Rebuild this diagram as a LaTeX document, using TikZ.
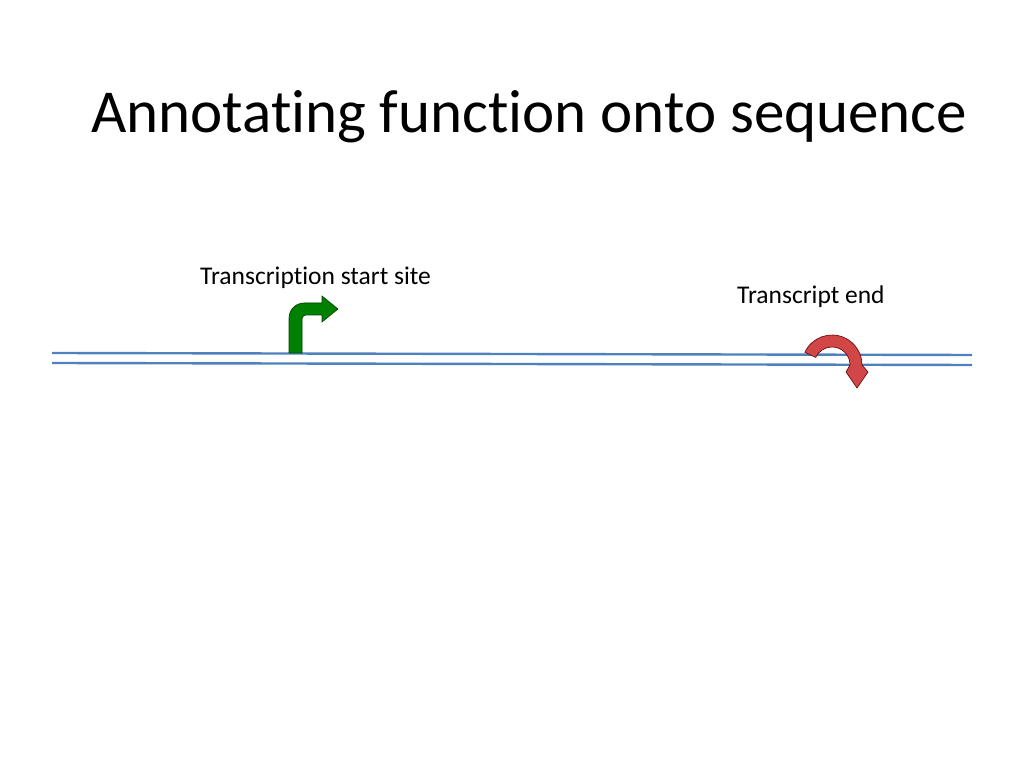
\documentclass[tikz,border=0pt]{standalone}
\usepackage{fontspec}
\setmainfont[Ligatures={NoCommon}]{Carlito}
\definecolor{strandblue}{RGB}{79,129,189}
\begin{document}
\begin{tikzpicture}[x=1pt,y=1pt,
	strand/.style={draw=strandblue, line width=2.4pt},
	label/.style={anchor=base west, inner sep=0pt, font=\fontsize{25.5}{28}\selectfont}]

	% ---- canvas

	\useasboundingbox (0,0) rectangle (1024,768);

	% ---- title

	\node[anchor=base west, inner sep=0pt, font=\fontsize{61}{66}\selectfont] (title) at (91,635) {Annotating function onto sequence};

	% ---- strands

	\coordinate (S1) at (52,415);
	\coordinate (E1) at (972,413);
	\coordinate (S2) at (52,405);
	\coordinate (E2) at (972,403);
	\draw[strand] (S1) -- (E1);
	\draw[strand] (S2) -- (E2);

	% ---- start site arrow

	\fill[green!50!black, draw=green!25!black, line width=0.6pt]
		(289,415) -- (289,450) arc (180:90:15) -- (322,465) -- (322,472) -- (338,459)
		-- (322,446) -- (322,453) -- (306,453) arc (90:180:4) -- (302,415) -- cycle;

	% ---- end arrow

	\fill[red!60!gray!90, draw=red!40!black, line width=0.6pt]
		(832,403) ++(155:30) arc (155:0:30) -- (868,396) -- (857,380) -- (846,396)
		-- (850,403) arc (0:155:18) -- cycle;

	% ---- labels

	\node[label] (tss) at (200,483) {Transcription start site};
	\node[label] (tend) at (737,464) {Transcript end};

\end{tikzpicture}
\end{document}
